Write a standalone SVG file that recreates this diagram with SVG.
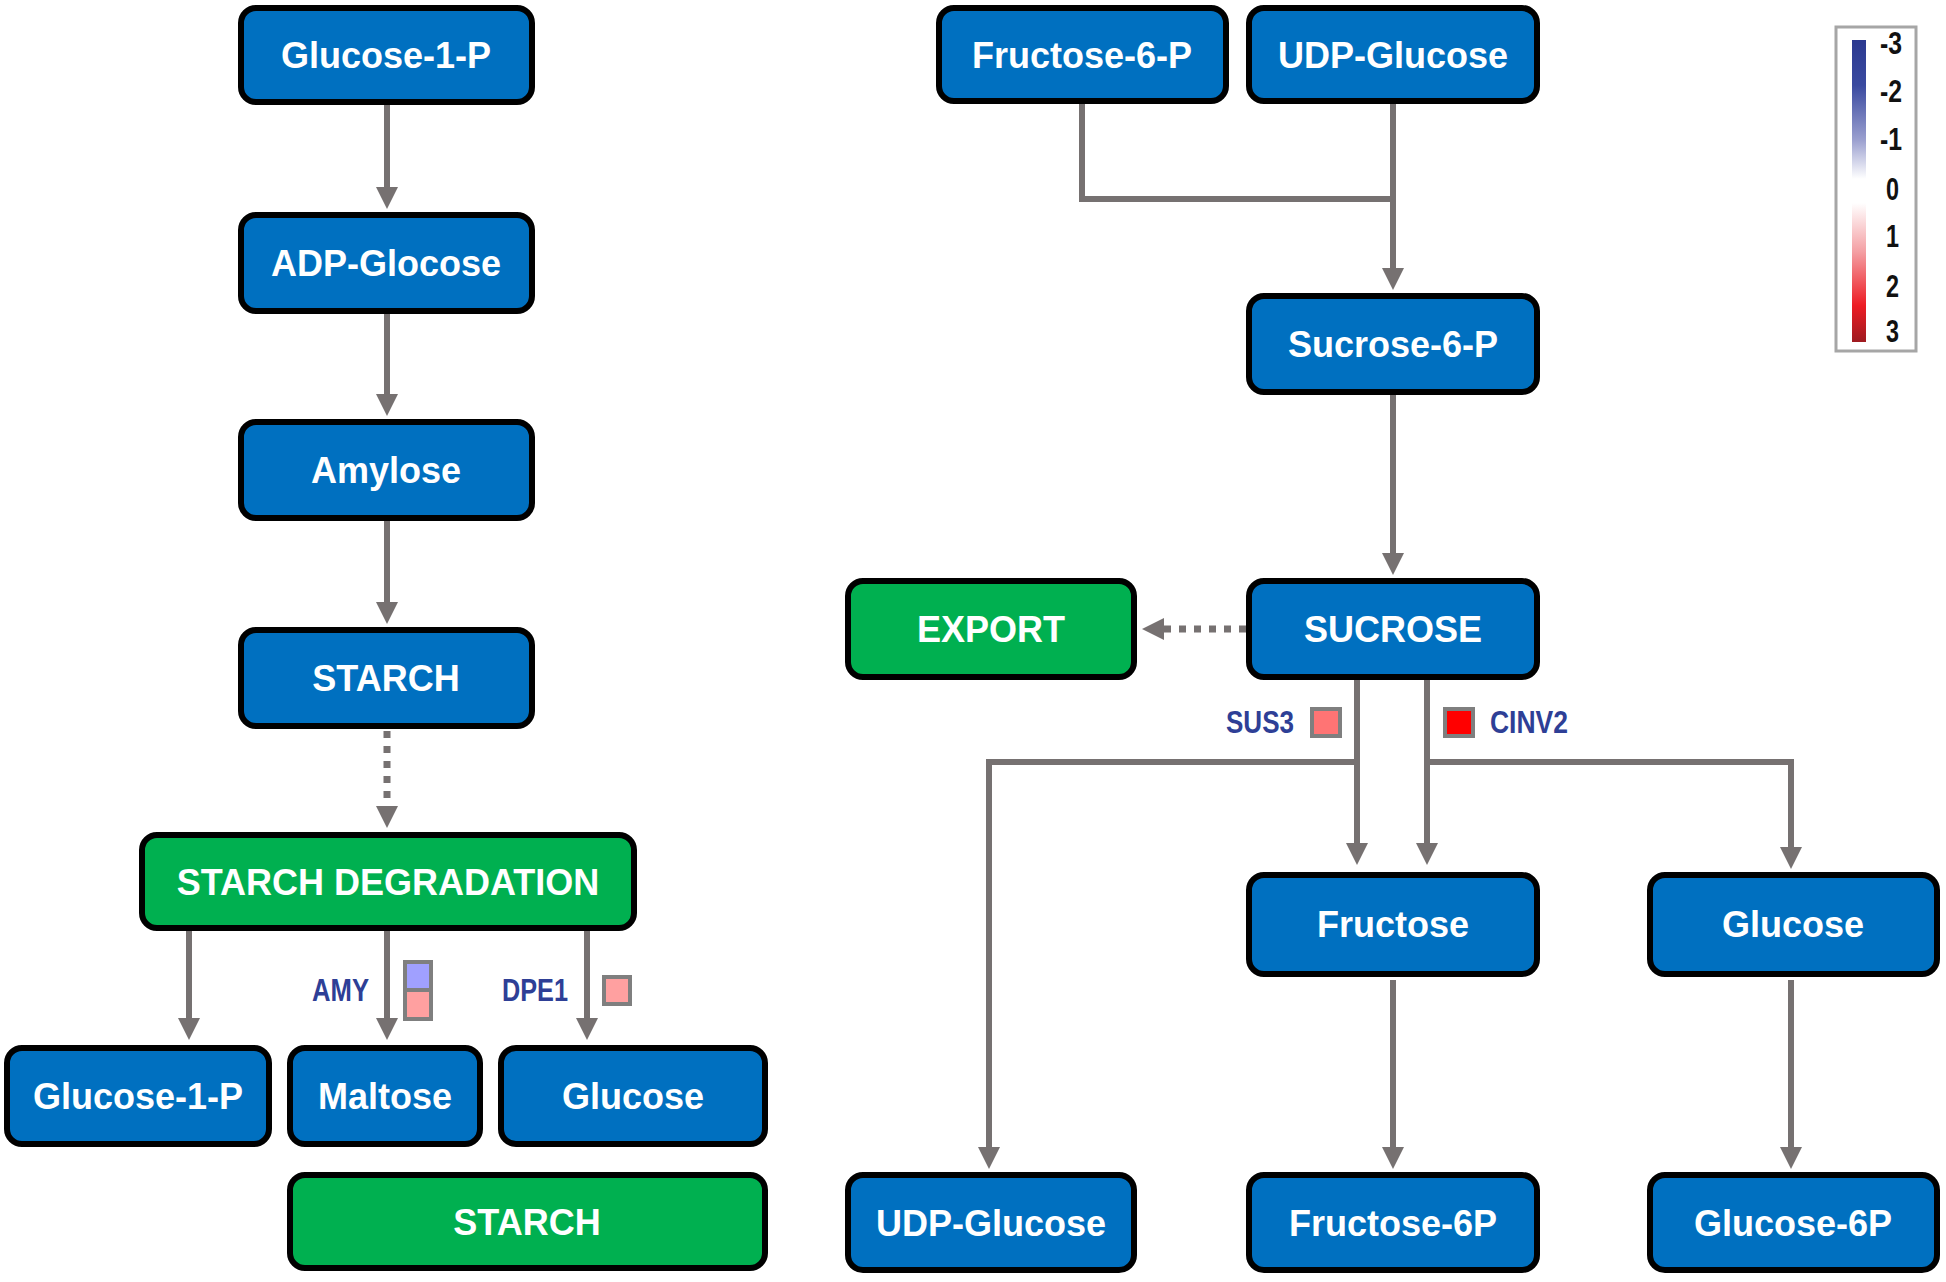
<svg xmlns="http://www.w3.org/2000/svg" width="1946" height="1282" viewBox="0 0 1946 1282">
<style>
.blue{fill:#0070c0;stroke:#000;stroke-width:6}
.green{fill:#00b050;stroke:#000;stroke-width:6}
.lbl{font-family:"Liberation Sans",Arial,sans-serif;font-weight:bold;font-size:36px;fill:#fff;text-anchor:middle}
.gene{font-family:"Liberation Sans",Arial,sans-serif;font-weight:bold;font-size:31px;fill:#2e3f96}
.leg{font-family:"Liberation Sans",Arial,sans-serif;font-weight:bold;font-size:32px;fill:#111}
.ln{fill:none;stroke:#767171;stroke-width:6}
.dash{fill:none;stroke:#767171;stroke-width:7;stroke-dasharray:7 8}
.sq{stroke:#7f7f7f;stroke-width:4}
</style>
<defs>
<marker id="ah" markerUnits="userSpaceOnUse" markerWidth="24" markerHeight="24" refX="0" refY="11" orient="auto" viewBox="0 0 24 24">
<path d="M0,0 L22,11 L0,22 z" fill="#767171"/>
</marker>
<linearGradient id="grad" x1="0" y1="0" x2="0" y2="1">
<stop offset="0" stop-color="#2b3990"/>
<stop offset="0.15" stop-color="#3a4aa0"/>
<stop offset="0.33" stop-color="#9a9fcf"/>
<stop offset="0.46" stop-color="#ffffff"/>
<stop offset="0.54" stop-color="#ffffff"/>
<stop offset="0.7" stop-color="#f4a0a4"/>
<stop offset="0.88" stop-color="#ed1c24"/>
<stop offset="1" stop-color="#9e1b20"/>
</linearGradient>
</defs>
<rect width="1946" height="1282" fill="#fff"/>

<g id="connectors">
<line class="ln" x1="387" y1="105" x2="387" y2="187" marker-end="url(#ah)"/>
<line class="ln" x1="387" y1="314" x2="387" y2="394" marker-end="url(#ah)"/>
<line class="ln" x1="387" y1="521" x2="387" y2="602" marker-end="url(#ah)"/>
<line class="dash" x1="387" y1="731" x2="387" y2="806" marker-end="url(#ah)"/>
<line class="ln" x1="189" y1="931" x2="189" y2="1018" marker-end="url(#ah)"/>
<line class="ln" x1="387" y1="931" x2="387" y2="1018" marker-end="url(#ah)"/>
<line class="ln" x1="587" y1="931" x2="587" y2="1018" marker-end="url(#ah)"/>
<polyline class="ln" points="1082,104 1082,199 1393,199"/>
<line class="ln" x1="1393" y1="104" x2="1393" y2="268" marker-end="url(#ah)"/>
<line class="ln" x1="1393" y1="395" x2="1393" y2="553" marker-end="url(#ah)"/>
<line class="dash" x1="1246" y1="629" x2="1164" y2="629" marker-end="url(#ah)"/>
<line class="ln" x1="1357" y1="680" x2="1357" y2="843" marker-end="url(#ah)"/>
<line class="ln" x1="1427" y1="680" x2="1427" y2="843" marker-end="url(#ah)"/>
<polyline class="ln" points="1357,762 989,762 989,1147" marker-end="url(#ah)"/>
<polyline class="ln" points="1427,762 1791,762 1791,847" marker-end="url(#ah)"/>
<line class="ln" x1="1393" y1="980" x2="1393" y2="1147" marker-end="url(#ah)"/>
<line class="ln" x1="1791" y1="980" x2="1791" y2="1147" marker-end="url(#ah)"/>
</g>

<g id="n-g1p-top"><rect class="blue" x="241" y="8" width="291" height="94" rx="15"/><text class="lbl" x="386" y="68">Glucose-1-P</text></g>
<g id="n-adp"><rect class="blue" x="241" y="215" width="291" height="96" rx="15"/><text class="lbl" x="386" y="276">ADP-Glocose</text></g>
<g id="n-amylose"><rect class="blue" x="241" y="422" width="291" height="96" rx="15"/><text class="lbl" x="386" y="483">Amylose</text></g>
<g id="n-starch"><rect class="blue" x="241" y="630" width="291" height="96" rx="15"/><text class="lbl" x="386" y="691">STARCH</text></g>
<g id="n-sd"><rect class="green" x="142" y="835" width="492" height="93" rx="15"/><text class="lbl" x="388" y="895">STARCH DEGRADATION</text></g>
<g id="n-g1p-bot"><rect class="blue" x="7" y="1048" width="262" height="96" rx="15"/><text class="lbl" x="138" y="1109">Glucose-1-P</text></g>
<g id="n-maltose"><rect class="blue" x="290" y="1048" width="190" height="96" rx="15"/><text class="lbl" x="385" y="1109">Maltose</text></g>
<g id="n-glucose-l"><rect class="blue" x="501" y="1048" width="264" height="96" rx="15"/><text class="lbl" x="633" y="1109">Glucose</text></g>
<g id="n-starch-bot"><rect class="green" x="290" y="1175" width="475" height="93" rx="15"/><text class="lbl" x="527" y="1235">STARCH</text></g>

<g id="n-f6p-top"><rect class="blue" x="939" y="8" width="287" height="93" rx="15"/><text class="lbl" x="1082" y="68">Fructose-6-P</text></g>
<g id="n-udpg-top"><rect class="blue" x="1249" y="8" width="288" height="93" rx="15"/><text class="lbl" x="1393" y="68">UDP-Glucose</text></g>
<g id="n-s6p"><rect class="blue" x="1249" y="296" width="288" height="96" rx="15"/><text class="lbl" x="1393" y="357">Sucrose-6-P</text></g>
<g id="n-sucrose"><rect class="blue" x="1249" y="581" width="288" height="96" rx="15"/><text class="lbl" x="1393" y="642">SUCROSE</text></g>
<g id="n-export"><rect class="green" x="848" y="581" width="286" height="96" rx="15"/><text class="lbl" x="991" y="642">EXPORT</text></g>
<g id="n-fructose"><rect class="blue" x="1249" y="875" width="288" height="99" rx="15"/><text class="lbl" x="1393" y="937">Fructose</text></g>
<g id="n-glucose-r"><rect class="blue" x="1650" y="875" width="287" height="99" rx="15"/><text class="lbl" x="1793" y="937">Glucose</text></g>
<g id="n-udpg-bot"><rect class="blue" x="848" y="1175" width="286" height="95" rx="15"/><text class="lbl" x="991" y="1236">UDP-Glucose</text></g>
<g id="n-f6p-bot"><rect class="blue" x="1249" y="1175" width="288" height="95" rx="15"/><text class="lbl" x="1393" y="1236">Fructose-6P</text></g>
<g id="n-g6p-bot"><rect class="blue" x="1650" y="1175" width="287" height="95" rx="15"/><text class="lbl" x="1793" y="1236">Glucose-6P</text></g>

<g id="genes">
<text class="gene" x="312" y="1001" textLength="57" lengthAdjust="spacingAndGlyphs">AMY</text>
<rect class="sq" x="405" y="962" width="26" height="30" fill="#a0a0ff"/>
<rect class="sq" x="405" y="990" width="26" height="29" fill="#ffa0a0"/>
<text class="gene" x="502" y="1001" textLength="66" lengthAdjust="spacingAndGlyphs">DPE1</text>
<rect class="sq" x="604" y="977" width="26" height="27" fill="#ffa0a0"/>
<text class="gene" x="1226" y="733" textLength="68" lengthAdjust="spacingAndGlyphs">SUS3</text>
<rect class="sq" x="1312" y="709" width="28" height="27" fill="#ff7474"/>
<rect class="sq" x="1445" y="709" width="28" height="27" fill="#ff0000"/>
<text class="gene" x="1490" y="733" textLength="78" lengthAdjust="spacingAndGlyphs">CINV2</text>
</g>

<g id="legend">
<rect x="1836" y="27" width="80" height="324" fill="#fff" stroke="#a6a6a6" stroke-width="3"/>
<rect x="1852" y="40" width="14" height="302" fill="url(#grad)"/>
<text class="leg" x="1880" y="54" textLength="22" lengthAdjust="spacingAndGlyphs">-3</text>
<text class="leg" x="1880" y="102" textLength="22" lengthAdjust="spacingAndGlyphs">-2</text>
<text class="leg" x="1880" y="150" textLength="22" lengthAdjust="spacingAndGlyphs">-1</text>
<text class="leg" x="1886" y="200" textLength="13" lengthAdjust="spacingAndGlyphs">0</text>
<text class="leg" x="1886" y="247" textLength="13" lengthAdjust="spacingAndGlyphs">1</text>
<text class="leg" x="1886" y="297" textLength="13" lengthAdjust="spacingAndGlyphs">2</text>
<text class="leg" x="1886" y="342" textLength="13" lengthAdjust="spacingAndGlyphs">3</text>
</g>
</svg>
